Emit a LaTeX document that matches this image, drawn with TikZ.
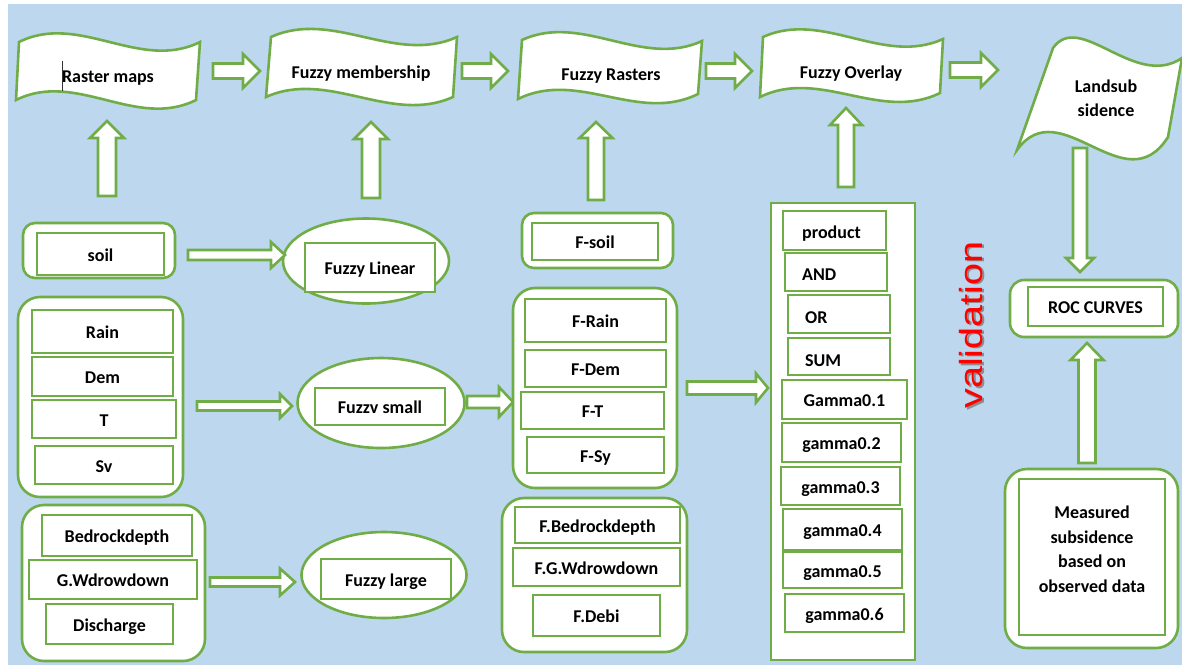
\documentclass[tikz,border=0pt]{standalone}
\usepackage{fontspec}
\setmainfont{Carlito}
\newfontfamily\valfont{Liberation Sans}
\usetikzlibrary{shapes.geometric}
\definecolor{bgblue}{RGB}{189,215,238}
\definecolor{gr}{RGB}{112,173,71}
\tikzset{
  lbl/.style={font=\fontsize{18}{24}\selectfont\bfseries, text=black, inner sep=0pt, text height=14pt, text depth=0pt},
  mlbl/.style={font=\fontsize{18}{24.5}\selectfont\bfseries, text=black, inner sep=0pt, align=center},
  inbox/.style={draw=gr, line width=2.6pt, fill=white, inner sep=0pt, lbl},
  barrow/.style={draw=gr, line width=2.6pt, fill=white, line join=miter},
  ell/.style={ellipse, draw=gr, line width=2.6pt, fill=white, inner sep=0pt},
}
% box from corners: [opts]{name}{x1}{y1}{x2}{y2}{text}
\newcommand\bx[7][]{\node[inbox,#1,minimum width={#5-#3},minimum height={#6-#4}] (#2) at ({(#3+#5)/2},{(#4+#6)/2}) {#7};}
% horizontal block arrow: tail x, tip x, y, shaft half, head half, head length
\newcommand\harr[6]{\draw[barrow] (#1,{#3-#4}) -- ({#2-#6},{#3-#4}) -- ({#2-#6},{#3-#5}) -- (#2,#3) -- ({#2-#6},{#3+#5}) -- ({#2-#6},{#3+#4}) -- (#1,{#3+#4}) -- cycle;}
% upward block arrow: x, tail y, tip y, shaft half, head half, head length
\newcommand\uarr[6]{\draw[barrow] ({#1-#4},#2) -- ({#1-#4},{#3+#6}) -- ({#1-#5},{#3+#6}) -- (#1,#3) -- ({#1+#5},{#3+#6}) -- ({#1+#4},{#3+#6}) -- ({#1+#4},#2) -- cycle;}
% downward block arrow
\newcommand\darr[6]{\draw[barrow] ({#1-#4},#2) -- ({#1-#4},{#3-#6}) -- ({#1-#5},{#3-#6}) -- (#1,#3) -- ({#1+#5},{#3-#6}) -- ({#1+#4},{#3-#6}) -- ({#1+#4},#2) -- cycle;}
% wave banner: top x1 y1 x2 y2, bottom x1 y1 x2 y2, amplitude
\newcommand\wave[9]{\draw[barrow] (#1,#2) .. controls ({#1+(#3-#1)/3},{#2+(#4-#2)/3-#9}) and ({#1+2*(#3-#1)/3},{#2+2*(#4-#2)/3+#9}) .. (#3,#4) -- (#7,#8) .. controls ({#5+2*(#7-#5)/3},{#6+2*(#8-#6)/3+#9}) and ({#5+(#7-#5)/3},{#6+(#8-#6)/3-#9}) .. (#5,#6) -- cycle;}
\begin{document}
\begin{tikzpicture}[x=1pt,y=-1pt]
\useasboundingbox (0,0) rectangle (1182,665);
\fill[white] (0,0) rectangle (1182,665);
\fill[bgblue] (8,4) rectangle (1182,665);

% ---- top banners ----
\wave{19}{42}{200}{42}{16}{100}{196}{100}{30}
\node[lbl] (raster) at (108,75) {Raster maps};
\draw[line width=0.8pt, black!80] (62,61) -- (62,91);
\wave{271}{37}{457}{37}{266}{97}{453}{97}{28}
\node[lbl] (fmem) at (361,71) {Fuzzy membership};
\wave{522}{40}{702}{41}{518}{99}{698}{94}{28}
\node[lbl] (frast) at (611,73) {Fuzzy Rasters};
\wave{763}{37}{943}{39}{760}{97}{940}{93}{28}
\node[lbl] (fover) at (851,71) {Fuzzy Overlay};
\draw[barrow] (1053,48) .. controls (1080,10) and (1135,90) .. (1182,58) -- (1168,137)
  .. controls (1125,205) and (1060,90) .. (1017,150) -- cycle;
\node[mlbl, font=\fontsize{18}{24}\selectfont\bfseries] (land) at (1106,98) {Landsub\\sidence};

% top arrows
\harr{213}{260}{71}{7.5}{17}{17}
\harr{462}{508}{71}{7.5}{17}{17}
\harr{706}{752}{71}{7.5}{17}{17}
\harr{950}{998}{70}{7.5}{17}{17}

% up arrows to banners
\uarr{107}{196}{121}{9}{17}{17}
\uarr{371}{198}{122}{9}{17}{17}
\uarr{596}{200}{122}{8}{16.5}{16}
\uarr{846}{187}{108}{8}{16}{17}

% ---- left column ----
\bx[rounded corners=12pt]{soilg}{23}{223}{175}{278}{}
\bx{soil}{37}{233}{164}{275}{soil}

\bx[rounded corners=22pt]{climg}{18}{297}{183}{497}{}
\bx{rain}{32}{310}{173}{353}{Rain}
\bx{dem}{32}{357}{173}{396}{Dem}
\bx{tt}{32}{400}{176}{438}{T}
\bx{sv}{35}{446}{173}{484}{Sv}

\bx[rounded corners=22pt]{hydg}{22}{505}{205}{661}{}
\bx{bed}{42}{515}{192}{556}{Bedrockdepth}
\bx{gw}{29}{560}{197}{599}{G.Wdrowdown}
\bx{dis}{46}{604}{173}{644}{Discharge}

% ---- ellipses ----
\node[ell, minimum width=166pt, minimum height=85pt] (lin) at (366,261) {};
\bx{linb}{305}{243}{435}{292}{Fuzzy Linear}
\node[ell, minimum width=167pt, minimum height=90pt] (sml) at (381,403) {};
\bx{smlb}{315}{388}{445}{425}{Fuzzv small}
\node[ell, minimum width=165pt, minimum height=86pt] (lrg) at (384,575) {};
\bx{lrgb}{321}{559}{451}{599}{Fuzzy large}

\harr{188}{285}{255}{5}{13}{14}
\harr{197}{292}{406}{4.5}{12}{12}
\harr{210}{295}{582}{4.5}{13.5}{15}
\harr{467}{513}{402}{6}{15}{14}

% ---- F column ----
\bx[rounded corners=12pt]{fsoilg}{522}{213}{673}{268}{}
\bx{fsoil}{532}{223}{658}{260}{F-soil}

\bx[rounded corners=22pt]{fclimg}{513}{288}{677}{488}{}
\bx{frain}{525}{299}{666}{342}{F-Rain}
\bx{fdem}{525}{350}{666}{387}{F-Dem}
\bx{ft}{521}{392}{664}{429}{F-T}
\bx{fsy}{527}{437}{664}{473}{F-Sy}

\bx[rounded corners=22pt]{fhydg}{502}{498}{687}{652}{}
\bx{fbed}{515}{507}{680}{543}{F.Bedrockdepth}
\bx{fgw}{513}{548}{680}{586}{F.G.Wdrowdown}
\bx{fdebi}{533}{595}{660}{636}{F.Debi}

\harr{687}{768}{388}{6.5}{14.5}{12}

% ---- overlay column ----
\bx{ovg}{771}{203}{915}{660}{}
\bx{prod}{783}{211}{886}{250}{}
\node[lbl, anchor=west] (prodt) at (802,231) {product};
\bx{andb}{785}{253}{887}{291}{}
\node[lbl, anchor=west] (andt) at (802,273) {AND};
\bx{orb}{788}{295}{890}{333}{}
\node[lbl, anchor=west] (ort) at (805,316) {OR};
\bx{sumb}{788}{338}{890}{375}{}
\node[lbl, anchor=west] (sumt) at (805,359) {SUM};
\bx{g1}{782}{380}{907}{419}{Gamma0.1}
\bx{g2}{782}{423}{901}{462}{gamma0.2}
\bx{g3}{781}{467}{900}{505}{gamma0.3}
\bx{g4}{783}{509}{902}{550}{gamma0.4}
\bx{g5}{783}{552}{902}{588}{gamma0.5}
\bx{g6}{785}{594}{904}{632}{gamma0.6}

% ---- validation ----
\node[rotate=90, inner sep=0pt, text=black!45, font=\valfont\fontsize{32}{32}\selectfont] (valsh) at (973.5,326.5) {\scalebox{1.24}[1]{validation}};
\node[rotate=90, inner sep=0pt, text=red, font=\valfont\fontsize{32}{32}\selectfont] (val) at (971,325) {\scalebox{1.24}[1]{validation}};

% ---- right column ----
\darr{1080}{148}{272}{7}{14}{14}
\bx[rounded corners=14pt]{rocg}{1010}{280}{1178}{337}{}
\bx{roc}{1028}{287}{1163}{326}{ROC CURVES}
\uarr{1087}{463}{343}{8.5}{16.5}{17}
\bx[rounded corners=22pt]{measg}{1005}{469}{1178}{648}{}
\bx{meas}{1019}{479}{1165}{635}{}
\node[mlbl] (meast) at (1092,549) {Measured\\subsidence\\based on\\observed data};
\end{tikzpicture}
\end{document}
